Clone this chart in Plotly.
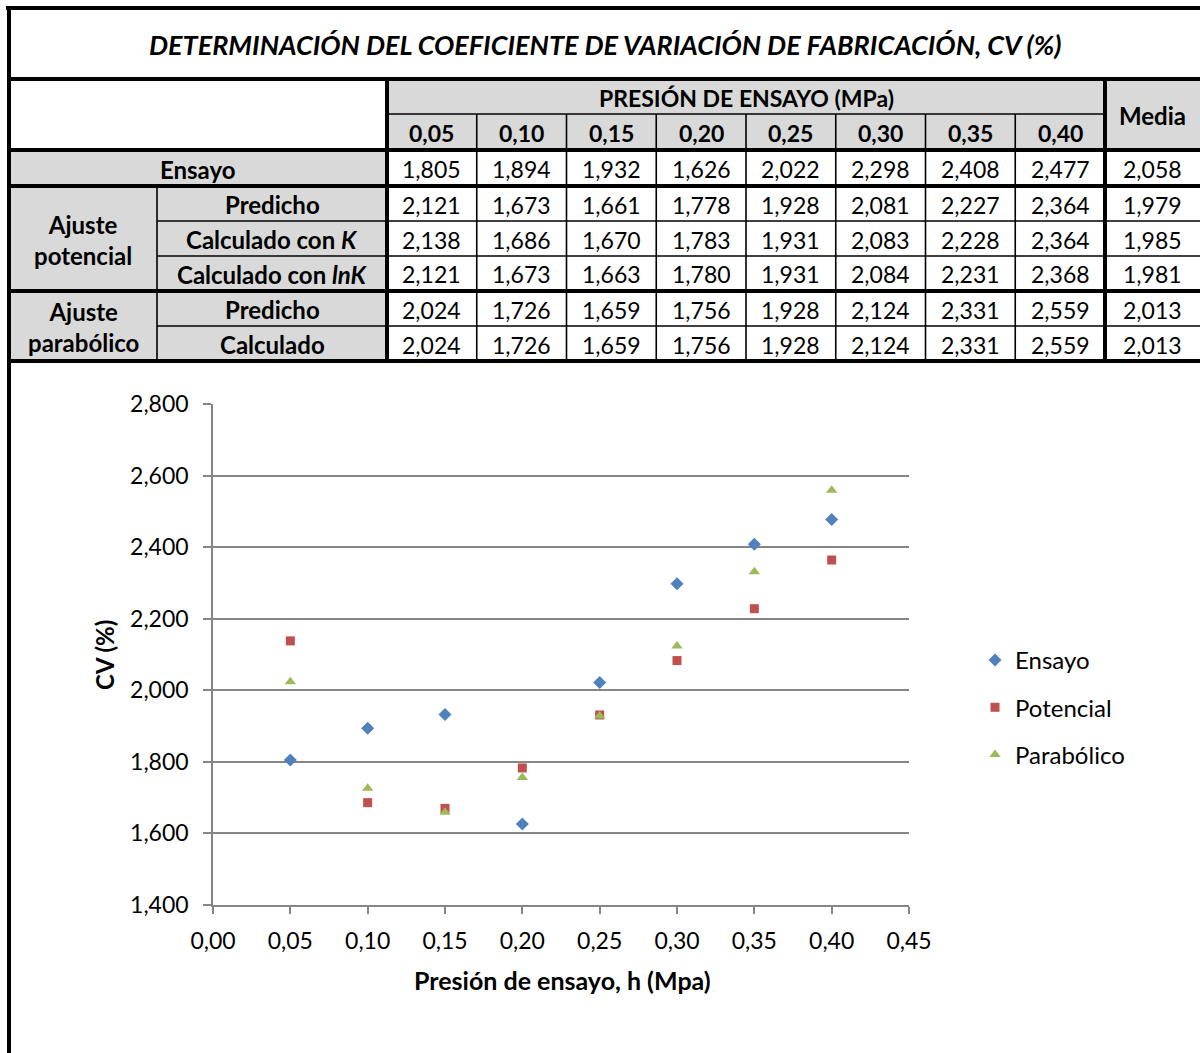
import plotly.graph_objects as go

# ---------------- data ----------------
presiones = [0.05, 0.10, 0.15, 0.20, 0.25, 0.30, 0.35, 0.40]
ensayo = [1.805, 1.894, 1.932, 1.626, 2.022, 2.298, 2.408, 2.477]
pot_predicho = [2.121, 1.673, 1.661, 1.778, 1.928, 2.081, 2.227, 2.364]
pot_calc_k = [2.138, 1.686, 1.670, 1.783, 1.931, 2.083, 2.228, 2.364]
pot_calc_lnk = [2.121, 1.673, 1.663, 1.780, 1.931, 2.084, 2.231, 2.368]
par_predicho = [2.024, 1.726, 1.659, 1.756, 1.928, 2.124, 2.331, 2.559]
par_calculado = [2.024, 1.726, 1.659, 1.756, 1.928, 2.124, 2.331, 2.559]
medias = [2.058, 1.979, 1.985, 1.981, 2.013, 2.013]

titulo = "DETERMINACIÓN DEL COEFICIENTE DE VARIACIÓN DE FABRICACIÓN, CV (%)"
series_names = ["Ensayo", "Potencial", "Parabólico"]

# ---------------- geometry helpers ----------------
W, H = 1200, 1053
FONT = "Lato"
GRAY_FILL = "#d9d9d9"


def px(x):
    return x / W


def py(y):
    return 1 - y / H


shapes = []
annotations = []


def rect(x0, y0, x1, y1, fill):
    shapes.append(dict(type="rect", xref="paper", yref="paper",
                       x0=px(x0), x1=px(x1), y0=py(y1), y1=py(y0),
                       fillcolor=fill, line=dict(width=0), layer="below"))


def hline(x0, x1, y, w):
    shapes.append(dict(type="line", xref="paper", yref="paper",
                       x0=px(x0), x1=px(x1), y0=py(y), y1=py(y),
                       line=dict(color="black", width=w)))


def vline(x, y0, y1, w):
    shapes.append(dict(type="line", xref="paper", yref="paper",
                       x0=px(x), x1=px(x), y0=py(y0), y1=py(y1),
                       line=dict(color="black", width=w)))


def text(x, y, s, size=23, bold=False, italic=False):
    if italic:
        s = "<i>" + s + "</i>"
    if bold:
        s = "<b>" + s + "</b>"
    annotations.append(dict(xref="paper", yref="paper", x=px(x), y=py(y), text=s,
                            showarrow=False, xanchor="center", yanchor="middle",
                            font=dict(family=FONT, size=size, color="black")))


def fmt(v, d=3):
    return f"{v:.{d}f}".replace(".", ",")


# table grid positions (pixels)
XL, XA, XD, XM, XR = 9, 157, 387, 1105, 1203
col_w = (XM - XD) / len(presiones)
col_edges = [XD + i * col_w for i in range(len(presiones) + 1)]
Y_TOP, Y_T, Y_H1, Y_H2, Y_E = 8, 79, 114, 150, 186
Y_P = [186, 221, 256, 291]
Y_Q = [291, 326, 361]
THICK, THIN = 4, 1.6
LBL = 24

# fills
rect(XD, Y_T, XM, Y_H2, GRAY_FILL)
rect(XM, Y_T, XR, Y_H2, GRAY_FILL)
rect(XL, Y_H2, XD, Y_Q[-1], GRAY_FILL)

# text: title
text(605, 45, titulo, size=27, bold=True, italic=True)
text((XD + XM) / 2, 98, "PRESIÓN DE ENSAYO (MPa)", size=23, bold=True)
for i, p in enumerate(presiones):
    cx = (col_edges[i] + col_edges[i + 1]) / 2
    text(cx, 133, fmt(p, 2), size=23, bold=True)
text((XM + XR) / 2 - 2, 115, "Media", size=LBL, bold=True)

row_defs = [
    ("Ensayo", ensayo, (Y_H2, Y_E)),
    ("Predicho", pot_predicho, (Y_P[0], Y_P[1])),
    ("Calculado con <i>K</i>", pot_calc_k, (Y_P[1], Y_P[2])),
    ("Calculado con <i>lnK</i>", pot_calc_lnk, (Y_P[2], Y_P[3])),
    ("Predicho", par_predicho, (Y_Q[0], Y_Q[1])),
    ("Calculado", par_calculado, (Y_Q[1], Y_Q[2])),
]
for r, (lab, vals, (ya, yb)) in enumerate(row_defs):
    cy = (ya + yb) / 2 + 1
    if r == 0:
        text((XL + XD) / 2, cy, lab, size=LBL, bold=True)
    else:
        text((XA + XD) / 2, cy, lab, size=LBL, bold=True)
    for i, v in enumerate(vals):
        cx = (col_edges[i] + col_edges[i + 1]) / 2
        text(cx, cy, fmt(v), size=23)
    text((XM + XR) / 2 - 2, cy, fmt(medias[r]), size=23)

text((XL + XA) / 2, (Y_P[0] + Y_P[3]) / 2 + 1, "Ajuste<br>potencial", size=LBL, bold=True)
text((XL + XA) / 2, (Y_Q[0] + Y_Q[2]) / 2 + 1, "Ajuste<br>parabólico", size=LBL, bold=True)

# lines
hline(6, W, Y_TOP, THICK)
vline(XL, 6, H, THICK)
hline(XL, W, Y_T, THICK)
hline(XD, XM, Y_H1, THIN)
hline(XL, W, Y_H2, THICK)
hline(XL, W, Y_E, THICK)
hline(XA, W, Y_P[1], THIN)
hline(XA, W, Y_P[2], THIN)
hline(XL, W, Y_P[3], THICK)
hline(XA, W, Y_Q[1], THIN)
hline(XL, W, Y_Q[2], THICK)
vline(XD, Y_T, Y_Q[2], THICK)
vline(XM, Y_T, Y_Q[2], THICK)
for e in col_edges[1:-1]:
    vline(e, Y_H1, Y_Q[2], THIN)
vline(XA, Y_E, Y_Q[2], THIN)

# axis titles
text(562, 980, "Presión de ensayo, h (Mpa)", size=25, bold=True)
annotations.append(dict(xref="paper", yref="paper", x=px(104), y=py(655),
                        text="<b>CV (%)</b>", showarrow=False, textangle=-90,
                        xanchor="center", yanchor="middle",
                        font=dict(family=FONT, size=LBL, color="black")))

# ---------------- chart ----------------
fig = go.Figure()
fig.add_trace(go.Scatter(x=presiones, y=ensayo, mode="markers", name=series_names[0],
                         legendgroup="a",
                         marker=dict(symbol="diamond", size=10, color="#4F81BD")))
fig.add_trace(go.Scatter(x=presiones, y=pot_calc_k, mode="markers", name=series_names[1],
                         legendgroup="b",
                         marker=dict(symbol="square", size=9, color="#C0504D")))
fig.add_trace(go.Scatter(x=presiones, y=par_calculado, mode="markers", name=series_names[2],
                         legendgroup="c",
                         marker=dict(symbol="triangle-up", size=10, color="#9BBB59")))

AX = "#868686"
fig.update_layout(
    width=W, height=H,
    margin=dict(l=0, r=0, t=0, b=0, autoexpand=False),
    paper_bgcolor="white", plot_bgcolor="white",
    separators=",.",
    font=dict(family=FONT, size=23, color="black"),
    shapes=shapes,
    annotations=annotations,
    showlegend=True,
    legend=dict(x=px(975), y=py(638), xanchor="left", yanchor="top",
                font=dict(family=FONT, size=24, color="black"),
                tracegroupgap=13, itemwidth=30, bgcolor="rgba(0,0,0,0)"),
    xaxis=dict(domain=[px(213), px(909)], range=[0, 0.45], dtick=0.05, tick0=0,
               tickformat=".2f", ticks="outside", ticklen=7, tickcolor=AX, tickwidth=1.5,
               ticklabelstandoff=8,
               showline=True, linecolor=AX, linewidth=1.5, showgrid=False, zeroline=False,
               automargin=False,
               tickfont=dict(family=FONT, size=23, color="black"), fixedrange=True),
    yaxis=dict(domain=[py(905), py(404)], range=[1.4, 2.8], dtick=0.2, tick0=1.4,
               tickformat=".3f", ticks="outside", ticklen=8, tickcolor=AX, tickwidth=1.5,
               ticklabelstandoff=10,
               showline=True, linecolor=AX, linewidth=1.5, showgrid=True,
               gridcolor=AX, gridwidth=1.5, zeroline=False, automargin=False,
               tickfont=dict(family=FONT, size=23, color="black"), fixedrange=True),
)

fig.write_html("out.html")
